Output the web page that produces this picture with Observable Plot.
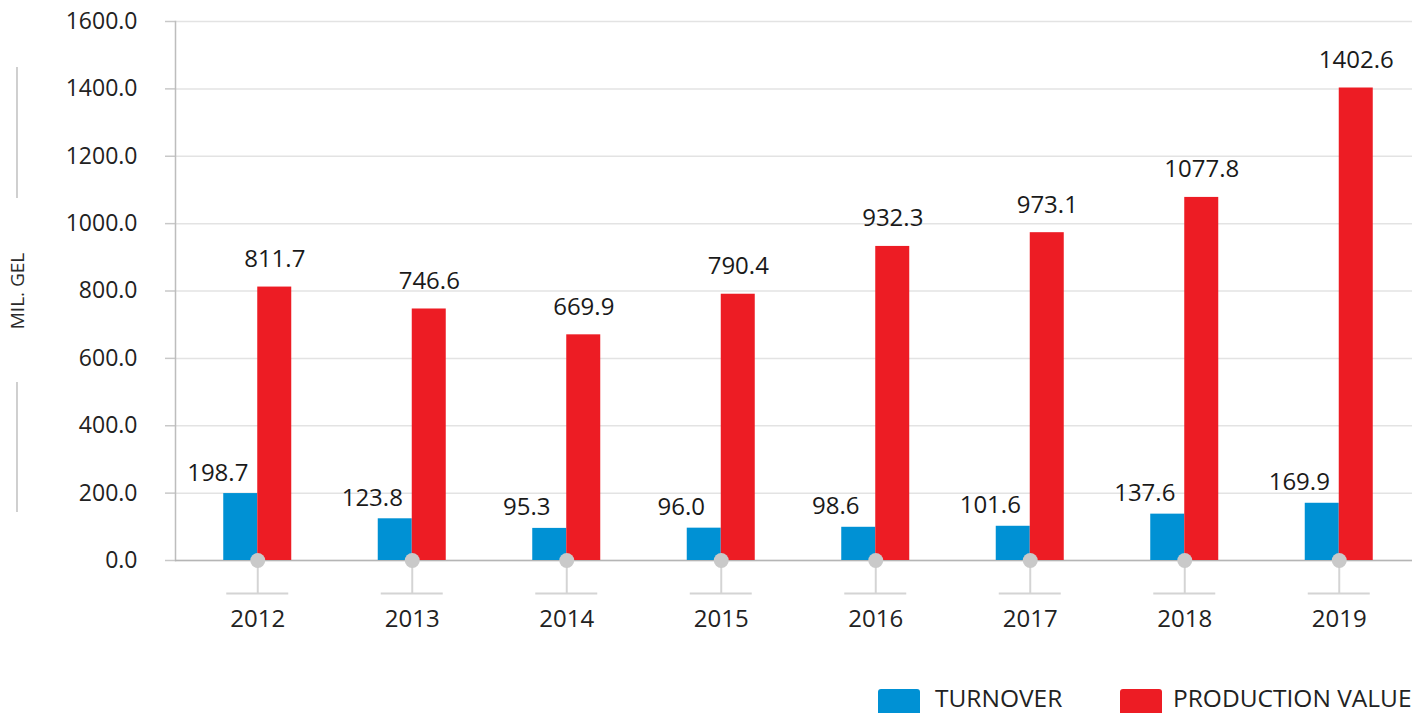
<!DOCTYPE html>
<html>
<head>
<meta charset="utf-8">
<script src="https://cdn.jsdelivr.net/npm/d3@7"></script>
<script src="https://cdn.jsdelivr.net/npm/@observablehq/plot@0.6"></script>
<style>
  html, body { margin: 0; padding: 0; background: #fff; }
  body { width: 1427px; height: 713px; overflow: hidden; position: relative; font-family: "Open Sans", "Noto Sans", sans-serif; }
  #legend { position: absolute; left: 0; top: 685px; width: 1427px; height: 28px; }
  .sw { position: absolute; top: 4px; width: 42px; height: 26px; border-radius: 3px; }
  .lt { position: absolute; top: -2px; font-size: 24.5px; line-height: 30px; color: #222; }
</style>
</head>
<body>
<div id="chart"></div>
<div id="legend">
  <div class="sw" style="left:878px;background:#0091d4"></div>
  <div class="lt" style="left:935px">TURNOVER</div>
  <div class="sw" style="left:1120px;background:#ed1c24"></div>
  <div class="lt" style="left:1173px">PRODUCTION VALUE</div>
</div>
<script>
const years = ["2012", "2013", "2014", "2015", "2016", "2017", "2018", "2019"];
const turnover = [198.7, 123.8, 95.3, 96.0, 98.6, 101.6, 137.6, 169.9];
const production = [811.7, 746.6, 669.9, 790.4, 932.3, 973.1, 1077.8, 1402.6];
const seriesNames = ["TURNOVER", "PRODUCTION VALUE"];
const seriesColors = ["#0091d4", "#ed1c24"];
const yTicks = [0, 200, 400, 600, 800, 1000, 1200, 1400, 1600];
const yLabel = "MIL. GEL";

const turnoverData = years.map((year, i) => ({year, series: seriesNames[0], value: turnover[i]}));
const productionData = years.map((year, i) => ({year, series: seriesNames[1], value: production[i]}));

const W = 1427, H = 685;
const x0 = 180, x1 = 1416;
const band = (x1 - x0) / years.length;
const half = band / 2;
const barW = 34;
const fmt = d3.format(".1f");
const font = '"Open Sans", "Noto Sans", sans-serif';

const plot = Plot.plot({
  width: W,
  height: H,
  marginLeft: 175,
  marginRight: 15,
  marginTop: 21,
  marginBottom: H - 560,
  style: {fontFamily: font, background: "#fff", color: "#222"},
  x: {domain: years, range: [x0, x1], padding: 0, round: false, axis: null},
  y: {domain: [0, 1600], axis: null},
  color: {domain: seriesNames, range: seriesColors},
  marks: [
    Plot.gridY(yTicks, {stroke: "#e3e3e3", strokeOpacity: 1, strokeWidth: 1.5}),
    Plot.axisY(yTicks, {
      tickSize: 10, tickPadding: 28, tickFormat: fmt, fontSize: 23, label: null,
      stroke: "#c8c8c8", strokeWidth: 1.5, color: "#222", fill: "#222"
    }),
    Plot.axisX({
      tickSize: 33, tickPadding: 16, fontSize: 24, label: null,
      stroke: "#d4d4d4", strokeWidth: 2, fill: "#222"
    }),
    Plot.tickY(years, {x: d => d, y: () => 0, dy: 33, insetLeft: half - 31, insetRight: half - 31, stroke: "#d4d4d4", strokeWidth: 2}),
    Plot.frame({anchor: "left", stroke: "#bdbdbd", strokeWidth: 1.5}),
    Plot.ruleY([0], {stroke: "#b5b5b5", strokeWidth: 1.5}),
    Plot.barY(turnoverData, {x: "year", y: "value", fill: "series", insetLeft: half - barW, insetRight: half}),
    Plot.barY(productionData, {x: "year", y: "value", fill: "series", insetLeft: half, insetRight: half - barW}),
    Plot.dot(years, {x: d => d, y: () => 0, r: 7.5, fill: "#c9c9c9", stroke: null}),
    Plot.text(turnoverData, {x: "year", y: "value", text: d => fmt(d.value), dx: -40, dy: -13, lineAnchor: "bottom", fontSize: 24, fill: "#1a1a1a"}),
    Plot.text(productionData, {x: "year", y: "value", text: d => fmt(d.value), dx: barW / 2, dy: -20, lineAnchor: "bottom", fontSize: 24, fill: "#1a1a1a"}),
    Plot.text([yLabel], {frameAnchor: "left", textAnchor: "middle", dx: -158, rotate: -90, fontSize: 19, fill: "#2a2a2a"})
  ]
});

document.getElementById("chart").appendChild(plot);

// decorative lines beside the y-axis label
const svg = d3.select(plot);
[[67, 198], [382, 512]].forEach(([a, b]) => {
  svg.append("line").attr("x1", 17).attr("x2", 17).attr("y1", a).attr("y2", b)
    .attr("stroke", "#b0b0b0").attr("stroke-width", 1.2);
});
</script>
</body>
</html>
